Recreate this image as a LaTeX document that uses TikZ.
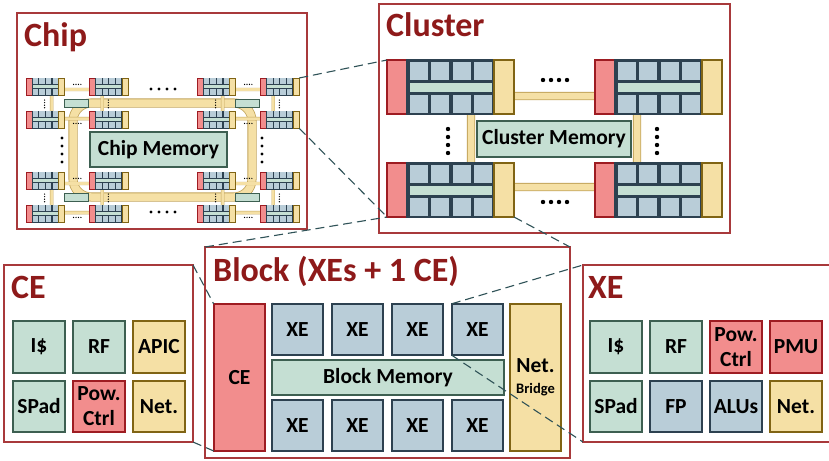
\documentclass[tikz,border=0pt]{standalone}
\usepackage{fontspec}
\setmainfont{Carlito}
\definecolor{framered}{HTML}{A8393B}
\definecolor{titlered}{HTML}{8E1A1A}
\definecolor{redfill}{HTML}{F28D8D}
\definecolor{redline}{HTML}{9E1C22}
\definecolor{greenfill}{HTML}{C5DFD3}
\definecolor{greenline}{HTML}{3D5F51}
\definecolor{bluefill}{HTML}{B9CDD8}
\definecolor{blueline}{HTML}{2D4150}
\definecolor{yellowfill}{HTML}{F5E0A5}
\definecolor{yellowline}{HTML}{806414}
\definecolor{ringline}{HTML}{C2A45A}
\definecolor{zoomcol}{HTML}{2F5257}

\newcommand{\clblock}[2]{%
  \begin{scope}[shift={(#1)}]
    \draw[blk line, draw=redline, fill=redfill] (0,0) rectangle (20,54);
    \draw[blk line, draw=blueline, fill=blueline] (20,0) rectangle (107,54);
    \foreach \i in {0,...,3} {
      \fill[bluefill] (22.5+21.5*\i,1.5) rectangle ++(18,18);
      \fill[bluefill] (22.5+21.5*\i,35) rectangle ++(18,18);
    }
    \fill[greenfill] (22.5,22.5) rectangle (105,31.5);
    \draw[blk line, draw=yellowline, fill=yellowfill] (107,0) rectangle (127,54);
    \coordinate (#2-nw) at (0,0);
    \coordinate (#2-ne) at (127,0);
    \coordinate (#2-sw) at (0,54);
    \coordinate (#2-se) at (127,54);
  \end{scope}}

\newcommand{\clusterbody}[2]{%
  \draw[ring] (84,36) rectangle (250,127);
  \clblock{0,0}{#1-a}
  \clblock{208,0}{#1-b}
  \clblock{0,103}{#1-c}
  \clblock{208,103}{#1-d}
  \draw[blk line, draw=greenline, fill=greenfill] #2;
  \foreach \d in {0,...,3} {
    \fill (156+8*\d,20) circle (2.2);
    \fill (156+8*\d,142) circle (2.2);
    \fill (61,69+8*\d) circle (2.2);
    \fill (270,69+8*\d) circle (2.2);
  }}

\begin{document}
\begin{tikzpicture}[x=1pt, y=-1pt,
    frame/.style={draw=framered, line width=1.2pt, fill=white, inner sep=0pt, outer sep=0pt, anchor=north west},
    title/.style={text=titlered, font=\bfseries\fontsize{34}{34}\selectfont, anchor=base west, inner sep=0pt},
    unit/.style={line width=2pt, minimum size=51.5pt, inner sep=0pt, outer sep=0pt, align=center, font=\bfseries\fontsize{21.5}{25}\selectfont},
    redunit/.style={unit, draw=redline, fill=redfill},
    greenunit/.style={unit, draw=greenline, fill=greenfill},
    blueunit/.style={unit, draw=blueline, fill=bluefill},
    yellowunit/.style={unit, draw=yellowline, fill=yellowfill},
    blk line/.style={line width=1.6pt},
    ring/.style={draw=ringline, double=yellowfill, double distance=6.5pt, line width=0.8pt, rounded corners=15pt},
    zoomline/.style={dash pattern=on 9pt off 5pt, draw=zoomcol, line width=1.1pt}]
  \useasboundingbox (0,0) rectangle (829,460);

  % chip
  \node[frame, minimum width=290pt, minimum height=216pt] (chip) at (17,13) {};
  \node[title] (chiptitle) at (24,47) {Chip};
  \draw[ring, double distance=7.5pt, rounded corners=18pt] (73,103) rectangle (252,197);
  \foreach \gx/\gy/\g in {26/78/cha, 197/78/chb, 26/172/chc, 197/172/chd} {
    \begin{scope}[shift={(\gx,\gy)}, xscale=0.305, yscale=0.32,
        blk line/.style={line width=0.5pt},
        ring/.style={draw=ringline, double=yellowfill, double distance=2.6pt, line width=0.4pt, rounded corners=5pt}]
      \clusterbody{\g}{(125,66) rectangle (203,91)}
    \end{scope}
  }
  \node[greenunit, minimum width=137pt, minimum height=35pt] (chipmem) at (158.5,149.5) {Chip Memory};
  \foreach \d in {0,...,3} {
    \fill (151+8*\d,89) circle (1.6);
    \fill (151+8*\d,212) circle (1.6);
    \fill (62,138+8*\d) circle (1.6);
    \fill (262,138+8*\d) circle (1.6);
  }

  % cluster
  \node[frame, minimum width=351pt, minimum height=229pt] (cluster) at (379,4) {};
  \node[title] (cltitle) at (386,37) {Cluster};
  \begin{scope}[shift={(387,60)}]
    \clusterbody{cl}{(90,61) rectangle (244,97)}
  \end{scope}
  \node[font=\bfseries\fontsize{21.5}{25}\selectfont] (clmem) at (554,139) {Cluster Memory};

  % block
  \node[frame, minimum width=365pt, minimum height=211pt] (block) at (205,247) {};
  \node[title] (blocktitle) at (213,281) {Block (XEs + 1 CE)};
  \node[redunit, minimum height=147pt] (bce) at (239.5,377.5) {CE};
  \foreach \i in {1,...,4} {
    \node[blueunit] (xet\i) at (237.5+60*\i,329.5) {XE};
    \node[blueunit] (xeb\i) at (237.5+60*\i,425.5) {XE};
  }
  \node[greenunit, minimum width=232pt, minimum height=35pt] (bmem) at (388,377.5) {Block Memory};
  \node[yellowunit, minimum height=147pt] (bnet) at (535.5,377.5) {Net.\\[-4pt]{\fontsize{14.5}{14}\selectfont Bridge}};

  % CE
  \node[frame, minimum width=189pt, minimum height=177pt] (ceframe) at (4,265) {};
  \node[title] (cetitle) at (11,298) {CE};
  \node[greenunit] (ceic) at (39,347) {I\$};
  \node[greenunit] (cerf) at (99,347) {RF};
  \node[yellowunit] (ceapic) at (159,347) {APIC};
  \node[greenunit] (cesp) at (39,406.5) {SPad};
  \node[redunit] (cepow) at (99,406.5) {Pow.\\Ctrl};
  \node[yellowunit] (cenet) at (159,406.5) {Net.};

  % XE
  \node[frame, minimum width=260pt, minimum height=177pt] (xeframe) at (583,265) {};
  \node[title] (xetitle) at (588,298) {XE};
  \node[greenunit] (xeic) at (616,347) {I\$};
  \node[greenunit] (xerf) at (676,347) {RF};
  \node[redunit] (xepow) at (736,347) {Pow.\\Ctrl};
  \node[redunit] (xepmu) at (796,347) {PMU};
  \node[greenunit] (xesp) at (616,406.5) {SPad};
  \node[blueunit] (xefp) at (676,406.5) {FP};
  \node[blueunit] (xealu) at (736,406.5) {ALUs};
  \node[yellowunit] (xenet) at (796,406.5) {Net.};

  \draw[zoomline] (chb-b-ne) -- (cl-a-nw);
  \draw[zoomline] (chb-d-se) -- (cl-c-sw);
  \draw[zoomline] (block.north west) -- (cl-c-sw);
  \draw[zoomline] (cl-c-se) -- (block.north east);
  \draw[zoomline] (ceframe.north east) -- (bce.north west);
  \draw[zoomline] (ceframe.south east) -- (bce.south west);
  \draw[zoomline] (xet4.north west) -- (xeframe.north west);
  \draw[zoomline] (xet4.south west) -- (xeframe.south west);
\end{tikzpicture}
\end{document}
